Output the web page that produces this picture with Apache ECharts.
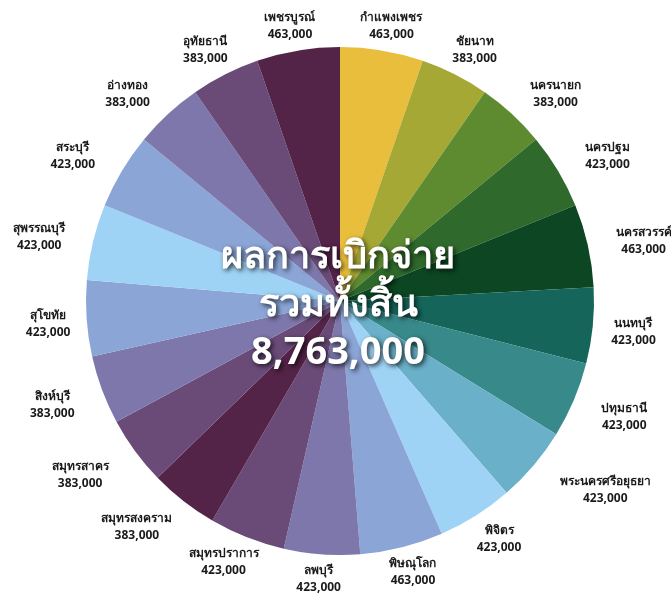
<!DOCTYPE html>
<html>
<head>
<meta charset="utf-8">
<script src="https://cdn.jsdelivr.net/npm/echarts@6/dist/echarts.min.js"></script>
<style>html,body{margin:0;padding:0;background:#fff;}#c{width:671px;height:600px;}</style>
</head>
<body>
<div id="c"></div>
<script>
const categories = ['กำแพงเพชร','ชัยนาท','นครนายก','นครปฐม','นครสวรรค์','นนทบุรี','ปทุมธานี','พระนครศรีอยุธยา','พิจิตร','พิษณุโลก','ลพบุรี','สมุทรปราการ','สมุทรสงคราม','สมุทรสาคร','สิงห์บุรี','สุโขทัย','สุพรรณบุรี','สระบุรี','อ่างทอง','อุทัยธานี','เพชรบูรณ์'];
const values = [463000,383000,383000,423000,463000,423000,423000,423000,423000,463000,423000,423000,383000,383000,383000,423000,423000,423000,383000,383000,463000];
const colors = ['#E8BE3C','#A5A834','#5E8A30','#2F6A2C','#0C4622','#15655A','#38898A','#6AB0C8','#9FD3F5','#8AA5D6','#7D77AB','#6A4B78','#532348','#6A4B78','#7D77AB','#8AA5D6','#9FD3F5','#8AA5D6','#7D77AB','#6A4B78','#532348'];
const centerTitle = ['ผลการเบิกจ่าย','รวมทั้งสิ้น'];
const total = values.reduce((a,b)=>a+b,0);

const CX = 340, CY = 301, R = 254, GAP = 8;
const cum = [];
values.reduce((acc,v,i)=>{cum[i]=acc+v/2; return acc+v;},0);

const chart = echarts.init(document.getElementById('c'), null, {renderer:'canvas'});
chart.setOption({
  backgroundColor:'#ffffff',
  animation:false,
  graphic:[{
    type:'text', x: 338, y: 233, z:100,
    style:{
      text: centerTitle.join('\n') + '\n' + total.toLocaleString('en-US'),
      fill:'#ffffff', font:'bold 38px "Noto Sans", sans-serif', lineHeight:48,
      align:'center', verticalAlign:'top',
      textShadowColor:'rgba(0,0,0,0.75)', textShadowBlur:5, textShadowOffsetX:2, textShadowOffsetY:2
    }
  }],
  series:[{
    type:'pie',
    center:[CX, CY],
    radius:[0, R],
    startAngle:90,
    clockwise:true,
    avoidLabelOverlap:false,
    data: categories.map((n,i)=>({name:n, value:values[i], itemStyle:{color:colors[i]}})),
    label:{
      show:true, position:'outside',
      formatter: p => p.name + '\n' + p.value.toLocaleString('en-US'),
      color:'#1a1a1a', fontWeight:'bold', fontSize:12, lineHeight:17,
      fontFamily:'"Noto Sans", sans-serif'
    },
    labelLine:{show:false},
    emphasis:{disabled:true},
    labelLayout: function(params){
      const i = params.dataIndex;
      const th = cum[i]/total*2*Math.PI;
      const s = Math.sin(th), c = Math.cos(th);
      const w = params.labelRect.width, h = params.labelRect.height;
      const clamp = (v,a,b) => Math.max(a, Math.min(b, v));
      const px = CX + (R+GAP)*s, py = CY - (R+GAP)*c;
      const as = Math.abs(s);
      const extra = 20 * clamp((as-0.55)/0.2, 0, 1) * (1 - 0.7*clamp((as-0.985)/0.015, 0, 1));
      return {
        x: px + w/2*clamp(s*1.6,-1,1) + Math.sign(s)*extra,
        y: py - h/2*clamp(c*1.6,-1,1) + (Math.abs(c) < 0.8 ? 3 : 0),
        align:'center', verticalAlign:'middle'
      };
    }
  }]
});
</script>
</body>
</html>
